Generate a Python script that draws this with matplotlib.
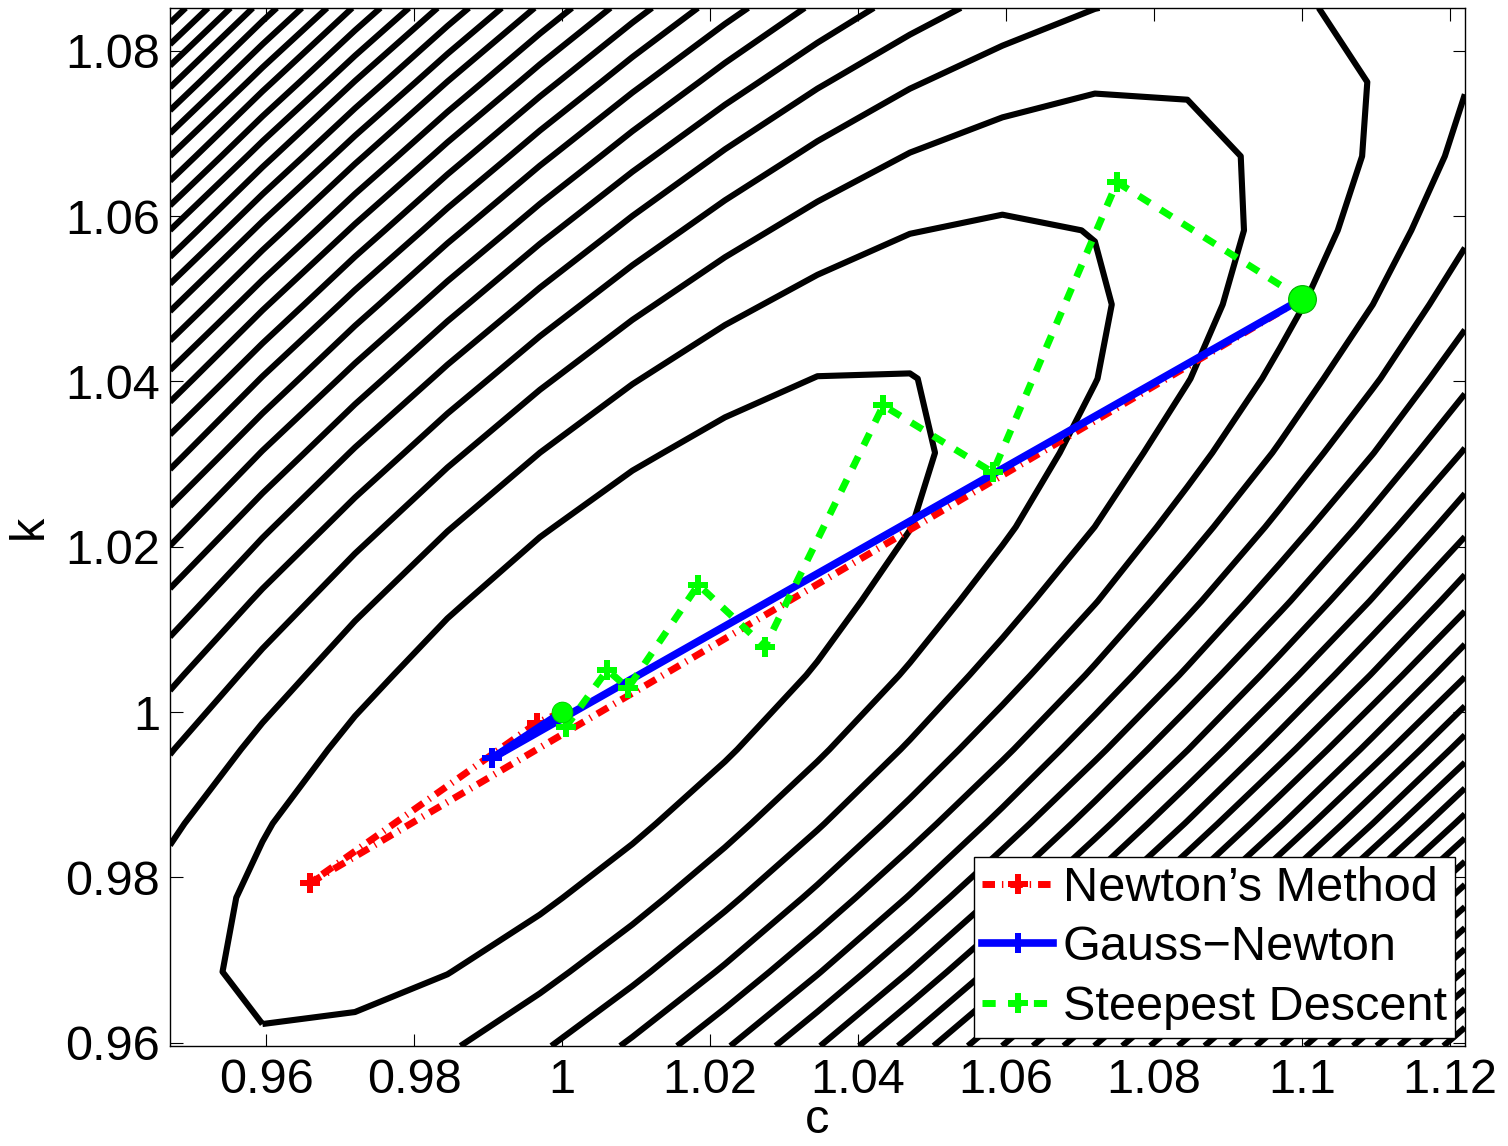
"""
Contours of the least-squares cost for fitting a mass-spring-damper (c, k),
with the iterates of Newton's method, Gauss-Newton and steepest descent.
"""

import numpy as np
import matplotlib
matplotlib.use('Agg')
import matplotlib.pyplot as plt

plt.rcParams['font.family'] = ['Liberation Sans', 'DejaVu Sans']
plt.rcParams['lines.scale_dashes'] = False

# =============================================================================
# DATA
# =============================================================================

# contour grid: 15 x 15 samples spanning the axes
C_RANGE = (0.947, 1.122)
K_RANGE = (0.9596, 1.0852)
N_GRID = 15

# one point on the innermost contour, one on the next one out
INNER_PT = (0.9595, 0.9615)
NEXT_PT = (1.0595, 1.0605)

newton_c = [1.1, 0.9659, 0.9966, 1.0]
newton_k = [1.05, 0.9793, 0.9987, 1.0]

gauss_c = [1.1, 0.9905, 1.0]
gauss_k = [1.05, 0.9944, 1.0]

steep_c = [1.1, 1.075, 1.0582, 1.0434, 1.0274, 1.0184, 1.0089, 1.0061, 1.0005, 1.0]
steep_k = [1.05, 1.0641, 1.029, 1.0371, 1.0079, 1.0154, 1.0029, 1.0051, 0.9982, 1.0]

start_c, start_k = 1.1, 1.05     # initial guess
true_c, true_k = 1.0, 1.0        # parameters used to make the data

x_ticks = [0.96, 0.98, 1.0, 1.02, 1.04, 1.06, 1.08, 1.1, 1.12]
x_labels = ['0.96', '0.98', '1', '1.02', '1.04', '1.06', '1.08', '1.1', '1.12']
y_ticks = [0.96, 0.98, 1.0, 1.02, 1.04, 1.06, 1.08]
y_labels = ['0.96', '0.98', '1', '1.02', '1.04', '1.06', '1.08']

labels = ['Newton\u2019s Method', 'Gauss\u2212Newton', 'Steepest Descent']

FS = 35

# =============================================================================
# COST SURFACE  x'' + c x' + k x = 0, x(0)=1, x'(0)=0, data from c=k=1
# =============================================================================

t = np.linspace(0, 10, 201)


def response(c, k):
    a = np.asarray(c, float)[..., None] / 2.0
    w = np.sqrt(np.asarray(k, float)[..., None] - a * a)
    return np.exp(-a * t) * (np.cos(w * t) + a / w * np.sin(w * t))


x_data = response(true_c, true_k)


def sse(c, k):
    return np.sum((response(c, k) - x_data) ** 2, axis=-1)


cg = np.linspace(*C_RANGE, N_GRID)
kg = np.linspace(*K_RANGE, N_GRID)
CC, KK = np.meshgrid(cg, kg)
Z = sse(CC, KK)

lev0 = float(sse(*INNER_PT))
step = float(sse(*NEXT_PT)) - lev0
levels = lev0 + step * np.arange(90)

# =============================================================================
# PLOT
# =============================================================================

fig = plt.figure(figsize=(15.08, 11.46), dpi=100)
ax = fig.add_axes([0.1127, 0.0873, 0.8587, 0.9058])

ax.contour(CC, KK, Z, levels=levels, colors='black', linewidths=4.4)

mk = dict(marker='P', ms=15, mew=0)
ax.plot(newton_c, newton_k, color='#ff0000', lw=5, dashes=(9, 5, 1, 5),
        label=labels[0], zorder=3, **mk)
ax.plot(gauss_c, gauss_k, color='#0000ff', lw=5.5, linestyle='-',
        label=labels[1], zorder=4, **mk)
ax.plot(steep_c, steep_k, color='#00ff00', lw=5, dashes=(9.5, 9),
        label=labels[2], zorder=5, **mk)
ax.plot([start_c], [start_k], 'o', color='#00ff00', ms=20, mec='#00b000',
        mew=0.8, zorder=6)
ax.plot([true_c], [true_k], 'o', color='#00ff00', ms=15, mec='#00d000',
        mew=0.6, zorder=6)

ax.set_xlim(*C_RANGE)
ax.set_ylim(*K_RANGE)
ax.set_xticks(x_ticks)
ax.set_xticklabels(x_labels)
ax.set_yticks(y_ticks)
ax.set_yticklabels(y_labels)
ax.tick_params(direction='in', length=9, width=0.8, top=True, right=True,
               labelsize=FS)
ax.tick_params(axis='x', pad=9)
ax.tick_params(axis='y', pad=7)
for sp in ax.spines.values():
    sp.set_linewidth(1.0)

ax.set_xlabel('c', fontsize=FS, labelpad=-4)
ax.set_ylabel('k', fontsize=FS, labelpad=10)

leg = ax.legend(loc='lower right', bbox_to_anchor=(0.9923, 0.0077),
                fontsize=FS, handlelength=1.45, handletextpad=0.2,
                labelspacing=0.3, borderpad=0.17, borderaxespad=0,
                fancybox=False, framealpha=1, edgecolor='black')
leg.get_frame().set_linewidth(1.0)

fig.savefig('out.png', dpi=100)
